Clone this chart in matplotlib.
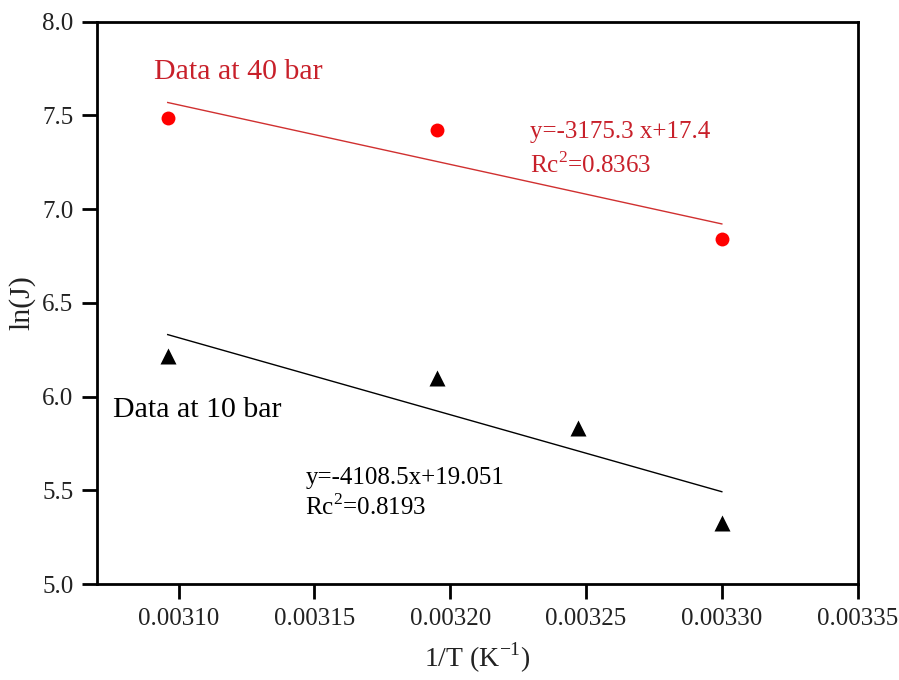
import matplotlib
matplotlib.use("Agg")
import matplotlib.pyplot as plt
import numpy as np

plt.rcParams['font.family'] = ['Liberation Serif', 'DejaVu Serif']
plt.rcParams['mathtext.fontset'] = 'custom'
plt.rcParams['mathtext.rm'] = 'Liberation Serif'

# Data
x40 = [0.003096, 0.003195, 0.003300]
y40 = [7.487, 7.423, 6.841]
x10 = [0.003096, 0.003195, 0.003247, 0.003300]
y10 = [6.215, 6.100, 5.833, 5.325]
fit40 = (-3175.3, 17.4)
fit10 = (-4108.5, 19.051)
xticks = [0.00310, 0.00315, 0.00320, 0.00325, 0.00330, 0.00335]
yticks = [5.0, 5.5, 6.0, 6.5, 7.0, 7.5, 8.0]

red_txt = '#c8202a'
fig = plt.figure(figsize=(8.99, 6.8), dpi=100)
ax = fig.add_axes([0.108, 0.141, 0.846, 0.827])

xf40 = np.array([x40[0], x40[-1]])
ax.plot(xf40, fit40[0] * xf40 + fit40[1], color='#d03030', lw=1.0)
xf10 = np.array([x10[0], x10[-1]])
ax.plot(xf10, fit10[0] * xf10 + fit10[1], color='black', lw=1.0)

ax.plot(x40, y40, 'o', color='#ff0000', ms=10, mec='none')
ax.plot(x10, y10, '^', color='black', ms=11, mec='none')

ax.set_xlim(0.00307, 0.00335)
ax.set_ylim(5.0, 8.0)
ax.set_xticks(xticks)
ax.set_xticklabels([f"{v:.5f}" for v in xticks])
ax.set_yticks(yticks)
ax.set_yticklabels([f"{v:.1f}" for v in yticks])

for s in ax.spines.values():
    s.set_linewidth(2)
ax.tick_params(direction='out', length=11, width=2, labelsize=18, colors='black',
               labelcolor='#222222', pad=6)

ax.set_xlabel(r'1/T (K$^{-1}$)', fontsize=20, color='#222222', labelpad=8)
ax.set_ylabel('ln(J)', fontsize=21.5, color='#222222', labelpad=5)

ax.text(0.0030908, 7.733, 'Data at 40 bar', color=red_txt, fontsize=21.5, va='center')
ax.text(0.0030757, 5.928, 'Data at 10 bar', color='black', fontsize=21.5, va='center')

ax.text(0.0032294, 7.413, 'y=-3175.3 x+17.4', color=red_txt, fontsize=18, va='center')
ax.text(0.0032294, 7.237, r'Rc$^2$=0.8363', color=red_txt, fontsize=18, va='center')
ax.text(0.0031467, 5.565, 'y=-4108.5x+19.051', color='black', fontsize=18, va='center')
ax.text(0.0031467, 5.411, r'Rc$^2$=0.8193', color='black', fontsize=18, va='center')

fig.savefig('out.png', dpi=100)
